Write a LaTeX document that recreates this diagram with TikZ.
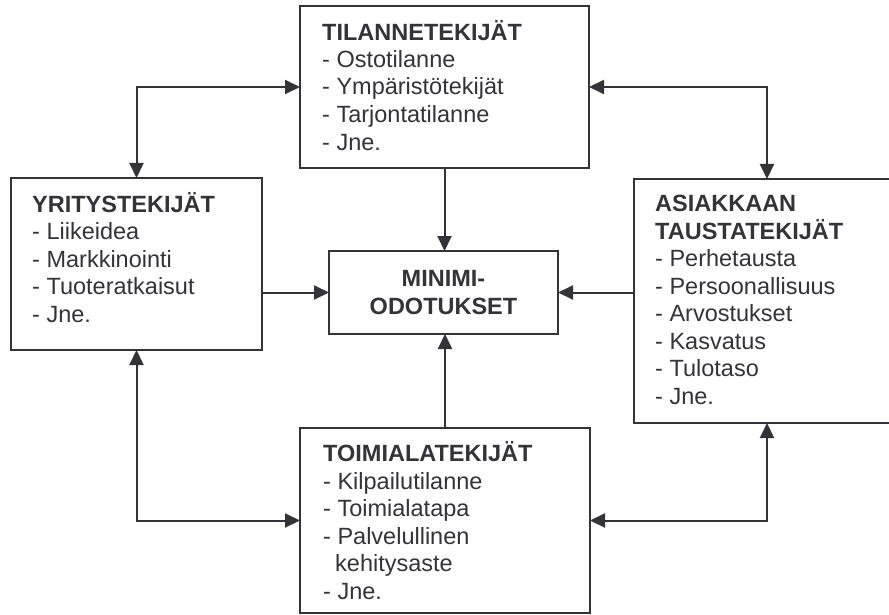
\documentclass[tikz,border=0pt]{standalone}
\usepackage{fontspec}
\setmainfont{Liberation Sans}
\usetikzlibrary{arrows.meta}
\definecolor{ink}{RGB}{51,51,56}
\begin{document}
\begin{tikzpicture}[x=1pt,y=-1pt,
  box/.style={draw=ink, line width=2pt, rectangle, inner sep=0pt, outer sep=0pt},
  txt/.style={anchor=base west, inner sep=0pt, align=left, text=ink, font=\fontsize{23.5}{27.5}\selectfont},
  conn/.style={draw=ink, line width=2pt, -{Triangle[length=15pt,width=14pt]}},
  both/.style={draw=ink, line width=2pt, {Triangle[length=15pt,width=14pt]}-{Triangle[length=15pt,width=14pt]}}]
\clip (0,0) rectangle (889,615);
\useasboundingbox (0,0) rectangle (889,615);

% boxes
\node[box, minimum width=289pt, minimum height=162pt] (ti) at (444.5,87) {};
\node[box, minimum width=251pt, minimum height=172pt] (yr) at (136.5,264) {};
\node[box, minimum width=266pt, minimum height=244pt] (as) at (767,301) {};
\node[box, minimum width=229pt, minimum height=83pt, align=center, text=ink,
      font=\fontsize{23.5}{28.5}\selectfont\bfseries] (mi) at (443.5,292.5) {MINIMI-\\ODOTUKSET};
\node[box, minimum width=290pt, minimum height=185pt] (to) at (445,520.5) {};

% texts (anchored at the baseline of their last line)
\node[txt] (tit) at (322,150) {\textbf{TILANNETEKIJÄT}\\- Ostotilanne\\- Ympäristötekijät\\- Tarjontatilanne\\- Jne.};
\node[txt] (yrt) at (32,322) {\textbf{YRITYSTEKIJÄT}\\- Liikeidea\\- Markkinointi\\- Tuoteratkaisut\\- Jne.};
\node[txt] (ast) at (655,404) {\textbf{ASIAKKAAN}\\\textbf{TAUSTATEKIJÄT}\\- Perhetausta\\- Persoonallisuus\\- Arvostukset\\- Kasvatus\\- Tulotaso\\- Jne.};
\node[txt] (tot) at (323,599) {\textbf{TOIMIALATEKIJÄT}\\- Kilpailutilanne\\- Toimialatapa\\- Palvelullinen\\\hspace*{12pt}kehitysaste\\- Jne.};

% connectors
\draw[both] (yr.north) |- (ti.west);
\draw[both] (ti.east) -| (as.north);
\draw[both] (yr.south) |- (to.west);
\draw[both] (as.south) |- (to.east);
\draw[conn] (ti.south) -- (ti.south |- mi.north);
\draw[conn] (to.north) -- (to.north |- mi.south);
\draw[conn] (yr.east |- mi.west) -- (mi.west);
\draw[conn] (as.west |- mi.east) -- (mi.east);
\end{tikzpicture}
\end{document}
